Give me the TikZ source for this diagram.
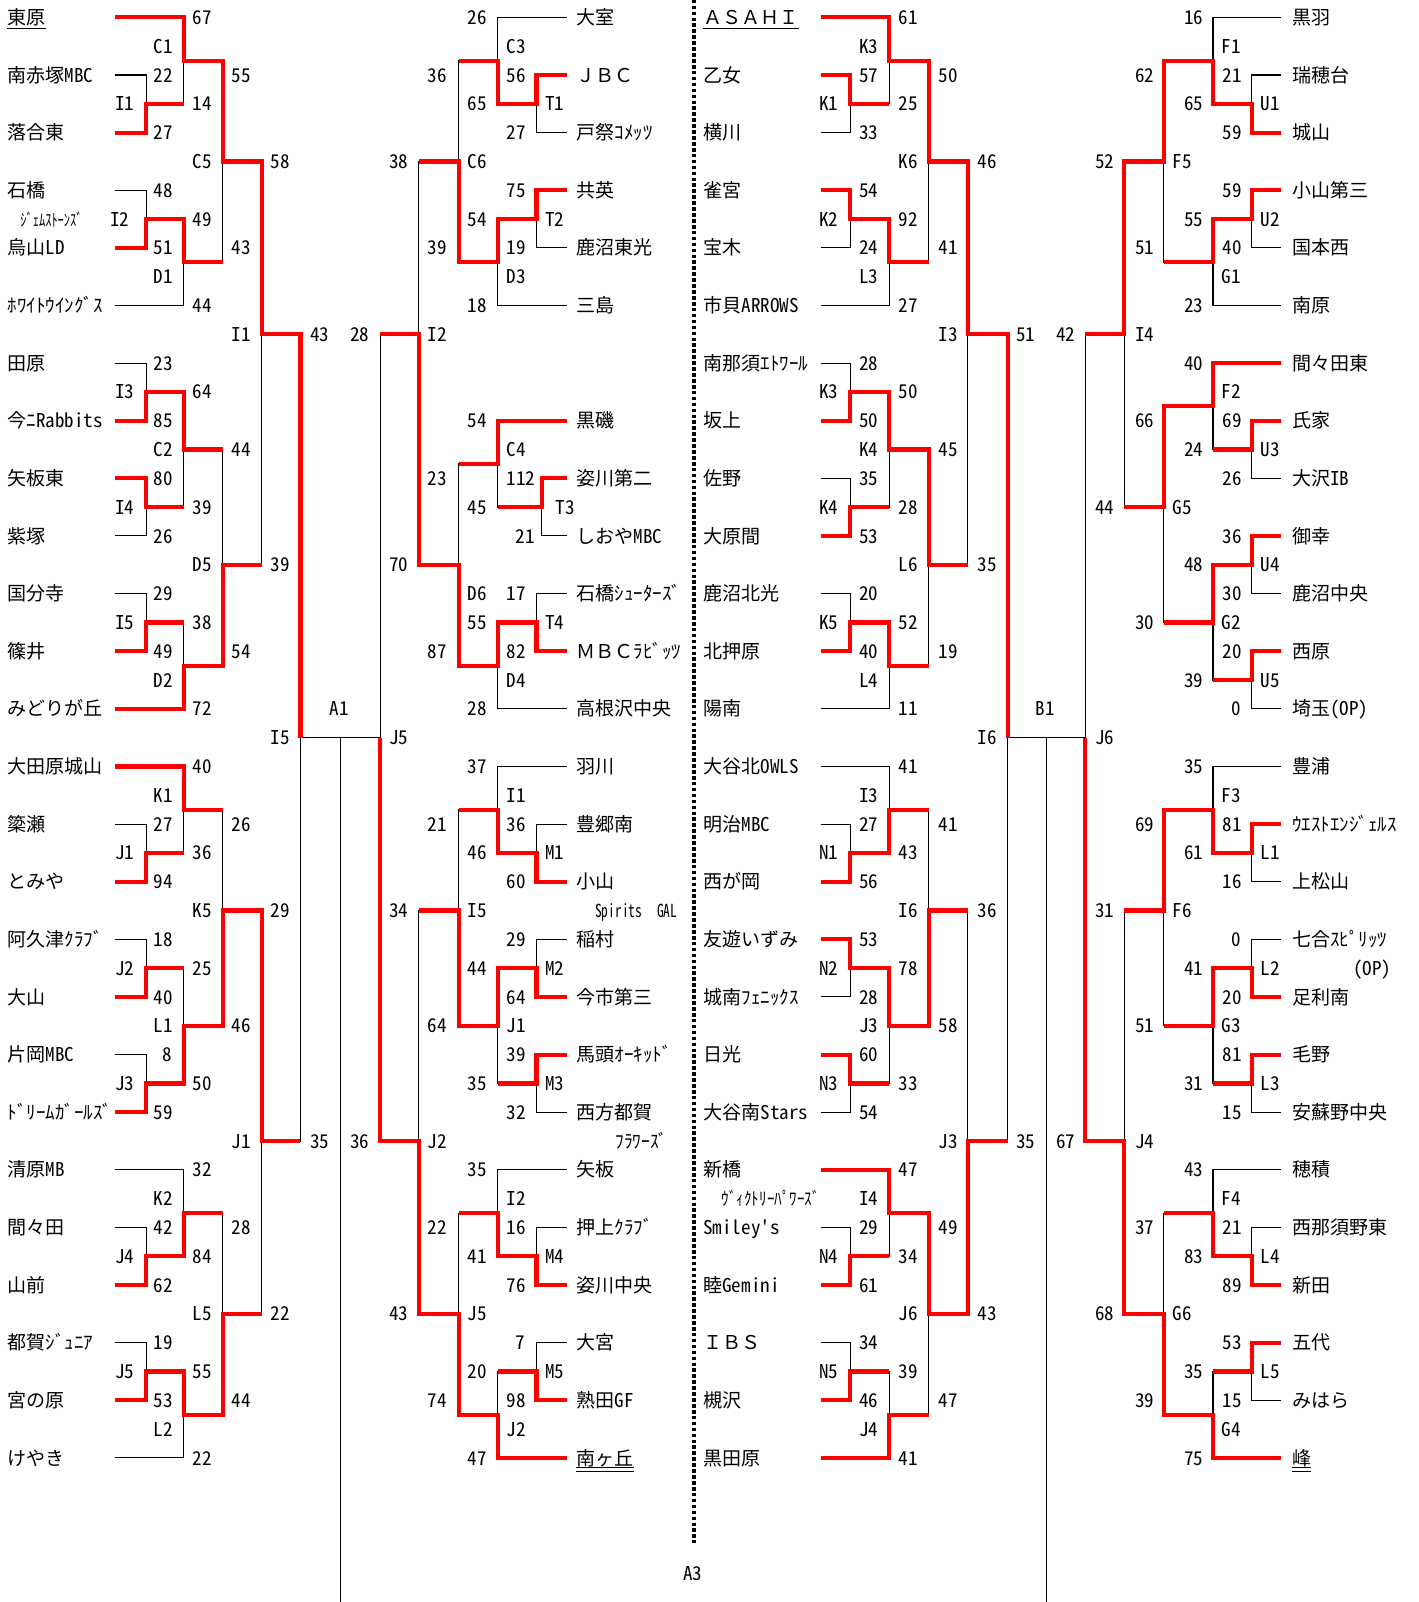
\documentclass[tikz,border=0pt]{standalone}
\usepackage{fontspec}
\setmainfont{Noto Sans CJK JP}
\newfontfamily\hw{Noto Sans CJK JP}[RawFeature=+hwid]
\newcommand\nf{\fontsize{10.6}{12}\selectfont}
\newcommand\mybr[5]{\draw[bline] (#1,#2)--(#3,#2)--(#3,#4)--(#5,#4);}
\tikzset{
  bline/.style={line width=0.56pt, black},
  rline/.style={line width=2.33pt, red, line join=miter},
  nm/.style={anchor=base west, inner sep=0pt, font=\nf, yshift=-0.138cm},
  sc/.style={anchor=base, inner sep=0pt, font=\hw\nf, yshift=-0.138cm},
  scr/.style={anchor=base east, inner sep=0pt, font=\hw\nf, yshift=-0.138cm},
  uline/.style={line width=0.56pt, black},
  dotline/.style={line width=1.9pt, dash pattern=on 2.0pt off 1.3pt},
}
\begin{document}
\begin{tikzpicture}[x=0.02cm, y=-0.564cm]
\useasboundingbox (0,-0.6028) rectangle (1388,55.0);
% ---------- black structure ----------
% A top
\mybr{113}{2}{143}{4}{113}
\mybr{113}{0}{180}{3}{143}
\mybr{113}{6}{143}{8}{113}
\mybr{143}{7}{180}{10}{113}
\mybr{180}{1.5}{218}{8.5}{180}
\mybr{113}{12}{143}{14}{113}
\mybr{113}{16}{143}{18}{113}
\mybr{143}{13}{180}{17}{143}
\mybr{113}{20}{143}{22}{113}
\mybr{143}{21}{180}{24}{113}
\mybr{180}{15}{218}{22.5}{180}
\mybr{218}{5}{256}{19}{218}
\mybr{256}{11}{294}{39}{256}
% A bottom
\mybr{113}{26}{180}{29}{143}
\mybr{113}{28}{143}{30}{113}
\mybr{113}{32}{143}{34}{113}
\mybr{113}{36}{143}{38}{113}
\mybr{143}{33}{180}{37}{143}
\mybr{180}{27.5}{218}{35}{180}
\mybr{113}{40}{180}{43}{143}
\mybr{113}{42}{143}{44}{113}
\mybr{113}{46}{143}{48}{113}
\mybr{143}{47}{180}{50}{113}
\mybr{180}{41.5}{218}{48.5}{180}
\mybr{218}{31}{256}{45}{218}
\draw[bline] (294,25)--(372,25) (333,25)--(333,55);
% B top
\mybr{555}{2}{525}{4}{555}
\mybr{555}{0}{487}{3}{525}
\mybr{555}{6}{525}{8}{555}
\mybr{525}{7}{487}{10}{555}
\mybr{487}{1.5}{449}{8.5}{487}
\mybr{555}{14}{487}{17}{530}
\mybr{555}{16}{530}{18}{555}
\mybr{555}{20}{525}{22}{555}
\mybr{525}{21}{487}{24}{555}
\mybr{487}{15.5}{449}{22.5}{487}
\mybr{449}{5}{410}{19}{449}
\mybr{410}{11}{372}{39}{410}
% B bottom
\mybr{555}{26}{487}{29}{525}
\mybr{555}{28}{525}{30}{555}
\mybr{555}{32}{525}{34}{555}
\mybr{555}{36}{525}{38}{555}
\mybr{525}{33}{487}{37}{525}
\mybr{487}{27.5}{449}{35}{487}
\mybr{555}{40}{487}{43}{525}
\mybr{555}{42}{525}{44}{555}
\mybr{555}{46}{525}{48}{555}
\mybr{525}{47}{487}{50}{555}
\mybr{487}{41.5}{449}{48.5}{487}
\mybr{449}{31}{410}{45}{449}
% C top
\mybr{803}{2}{832}{4}{803}
\mybr{803}{0}{870}{3}{832}
\mybr{803}{6}{832}{8}{803}
\mybr{832}{7}{870}{10}{803}
\mybr{870}{1.5}{909}{8.5}{870}
\mybr{803}{12}{832}{14}{803}
\mybr{803}{16}{832}{18}{803}
\mybr{832}{13}{870}{17}{832}
\mybr{803}{20}{832}{22}{803}
\mybr{832}{21}{870}{24}{803}
\mybr{870}{15}{909}{22.5}{870}
\mybr{909}{5}{947}{19}{909}
\mybr{947}{11}{986}{39}{947}
% C bottom
\mybr{803}{26}{870}{29}{832}
\mybr{803}{28}{832}{30}{803}
\mybr{803}{32}{832}{34}{803}
\mybr{803}{36}{832}{38}{803}
\mybr{832}{33}{870}{37}{832}
\mybr{870}{27.5}{909}{35}{870}
\mybr{803}{40}{870}{43}{832}
\mybr{803}{42}{832}{44}{803}
\mybr{803}{46}{832}{48}{803}
\mybr{832}{47}{870}{50}{803}
\mybr{870}{41.5}{909}{48.5}{870}
\mybr{909}{31}{947}{45}{909}
\draw[bline] (986,25)--(1062,25) (1024,25)--(1024,55);
% D top
\mybr{1254}{2}{1225}{4}{1254}
\mybr{1254}{0}{1187}{3}{1225}
\mybr{1254}{6}{1225}{8}{1254}
\mybr{1225}{7}{1187}{10}{1254}
\mybr{1187}{1.5}{1139}{8.5}{1187}
\mybr{1254}{12}{1187}{15}{1225}
\mybr{1254}{14}{1225}{16}{1254}
\mybr{1254}{18}{1225}{20}{1254}
\mybr{1254}{22}{1225}{24}{1254}
\mybr{1225}{19}{1187}{23}{1225}
\mybr{1187}{13.5}{1139}{21}{1187}
\mybr{1139}{5}{1100}{17}{1139}
\mybr{1100}{11}{1062}{39}{1100}
% D bottom
\mybr{1254}{26}{1187}{29}{1225}
\mybr{1254}{28}{1225}{30}{1254}
\mybr{1254}{32}{1225}{34}{1254}
\mybr{1254}{36}{1225}{38}{1254}
\mybr{1225}{33}{1187}{37}{1225}
\mybr{1187}{27.5}{1139}{35}{1187}
\mybr{1254}{40}{1187}{43}{1225}
\mybr{1254}{42}{1225}{44}{1254}
\mybr{1254}{46}{1225}{48}{1254}
\mybr{1225}{47}{1187}{50}{1254}
\mybr{1187}{41.5}{1139}{48.5}{1187}
\mybr{1139}{31}{1100}{45}{1139}
% ---------- red winner paths ----------
% A
\draw[rline] (113,0)--(180,0)--(180,1.5)--(218,1.5)--(218,5)--(256,5)--(256,11)--(294,11)--(294,25);
\draw[rline] (113,4)--(143,4)--(143,3)--(180,3);
\draw[rline] (113,8)--(143,8)--(143,7)--(180,7)--(180,8.5)--(218,8.5);
\draw[rline] (113,14)--(143,14)--(143,13)--(180,13)--(180,15)--(218,15);
\draw[rline] (113,16)--(143,16)--(143,17)--(180,17);
\draw[rline] (113,22)--(143,22)--(143,21)--(180,21);
\draw[rline] (113,24)--(180,24)--(180,22.5)--(218,22.5)--(218,19)--(256,19);
\draw[rline] (113,26)--(180,26)--(180,27.5)--(218,27.5);
\draw[rline] (113,30)--(143,30)--(143,29)--(180,29);
\draw[rline] (113,34)--(143,34)--(143,33)--(180,33);
\draw[rline] (113,38)--(143,38)--(143,37)--(180,37)--(180,35)--(218,35)--(218,31)--(256,31)--(256,39)--(294,39);
\draw[rline] (113,44)--(143,44)--(143,43)--(180,43)--(180,41.5)--(218,41.5);
\draw[rline] (113,48)--(143,48)--(143,47)--(180,47)--(180,48.5)--(218,48.5)--(218,45)--(256,45);
% B
\draw[rline] (555,2)--(525,2)--(525,3)--(487,3)--(487,1.5)--(449,1.5);
\draw[rline] (555,6)--(525,6)--(525,7)--(487,7)--(487,8.5)--(449,8.5)--(449,5)--(410,5);
\draw[rline] (555,14)--(487,14)--(487,15.5)--(449,15.5);
\draw[rline] (555,16)--(530,16)--(530,17)--(487,17);
\draw[rline] (555,22)--(525,22)--(525,21)--(487,21)--(487,22.5)--(449,22.5)--(449,19)--(410,19)--(410,11)--(372,11);
\draw[rline] (555,30)--(525,30)--(525,29)--(487,29)--(487,27.5)--(449,27.5);
\draw[rline] (555,34)--(525,34)--(525,33)--(487,33)--(487,35)--(449,35)--(449,31)--(410,31);
\draw[rline] (555,36)--(525,36)--(525,37)--(487,37);
\draw[rline] (555,44)--(525,44)--(525,43)--(487,43)--(487,41.5)--(449,41.5);
\draw[rline] (555,48)--(525,48)--(525,47)--(487,47);
\draw[rline] (555,50)--(487,50)--(487,48.5)--(449,48.5)--(449,45)--(410,45)--(410,39)--(372,39)--(372,25);
% C
\draw[rline] (803,0)--(870,0)--(870,1.5)--(909,1.5)--(909,5)--(947,5)--(947,11)--(986,11)--(986,25);
\draw[rline] (803,2)--(832,2)--(832,3)--(870,3);
\draw[rline] (803,6)--(832,6)--(832,7)--(870,7)--(870,8.5)--(909,8.5);
\draw[rline] (803,14)--(832,14)--(832,13)--(870,13)--(870,15)--(909,15)--(909,19)--(947,19);
\draw[rline] (803,18)--(832,18)--(832,17)--(870,17);
\draw[rline] (803,22)--(832,22)--(832,21)--(870,21)--(870,22.5)--(909,22.5);
\draw[rline] (803,30)--(832,30)--(832,29)--(870,29)--(870,27.5)--(909,27.5);
\draw[rline] (803,32)--(832,32)--(832,33)--(870,33)--(870,35)--(909,35)--(909,31)--(947,31);
\draw[rline] (803,36)--(832,36)--(832,37)--(870,37);
\draw[rline] (803,40)--(870,40)--(870,41.5)--(909,41.5)--(909,45)--(947,45)--(947,39)--(986,39);
\draw[rline] (803,44)--(832,44)--(832,43)--(870,43);
\draw[rline] (803,48)--(832,48)--(832,47)--(870,47);
\draw[rline] (803,50)--(870,50)--(870,48.5)--(909,48.5);
% D
\draw[rline] (1254,4)--(1225,4)--(1225,3)--(1187,3)--(1187,1.5)--(1139,1.5)--(1139,5)--(1100,5)--(1100,11)--(1062,11);
\draw[rline] (1254,6)--(1225,6)--(1225,7)--(1187,7)--(1187,8.5)--(1139,8.5);
\draw[rline] (1254,12)--(1187,12)--(1187,13.5)--(1139,13.5)--(1139,17)--(1100,17);
\draw[rline] (1254,14)--(1225,14)--(1225,15)--(1187,15);
\draw[rline] (1254,18)--(1225,18)--(1225,19)--(1187,19)--(1187,21)--(1139,21);
\draw[rline] (1254,22)--(1225,22)--(1225,23)--(1187,23);
\draw[rline] (1254,28)--(1225,28)--(1225,29)--(1187,29)--(1187,27.5)--(1139,27.5)--(1139,31)--(1100,31);
\draw[rline] (1254,34)--(1225,34)--(1225,33)--(1187,33)--(1187,35)--(1139,35);
\draw[rline] (1254,36)--(1225,36)--(1225,37)--(1187,37);
\draw[rline] (1254,44)--(1225,44)--(1225,43)--(1187,43)--(1187,41.5)--(1139,41.5);
\draw[rline] (1254,46)--(1225,46)--(1225,47)--(1187,47);
\draw[rline] (1254,50)--(1187,50)--(1187,48.5)--(1139,48.5)--(1139,45)--(1100,45)--(1100,39)--(1062,39)--(1062,25);
% dotted divider
\coordinate (dtop) at (679,-0.61);
\coordinate (dbot) at (679,52.95);
\draw[dotline] (dtop) -- (dbot);
% ---------- team names ----------
\foreach \x/\k/\t [count=\i] in {
7/2/{南赤塚{\hw MBC}},7/4/落合東,7/6/石橋,7/8/{烏山{\hw LD}},7/10/ﾎﾜｲﾄｳｲﾝｸﾞｽ,7/12/田原,7/14/{今ﾆ{\hw Rabbits}},7/16/矢板東,7/18/紫塚,7/20/国分寺,7/22/篠井,7/24/みどりが丘,
7/26/大田原城山,7/28/簗瀬,7/30/とみや,7/32/阿久津ｸﾗﾌﾞ,7/34/大山,7/36/{片岡{\hw MBC}},7/38/ﾄﾞﾘｰﾑｶﾞｰﾙｽﾞ,7/40/{清原{\hw MB}},7/42/間々田,7/44/山前,7/46/都賀ｼﾞｭﾆｱ,7/48/宮の原,7/50/けやき,
564/0/大室,564/2/ＪＢＣ,564/4/戸祭ｺﾒｯﾂ,564/6/共英,564/8/鹿沼東光,564/10/三島,564/14/黒磯,564/16/姿川第二,564/18/{しおや{\hw MBC}},564/20/石橋ｼｭｰﾀｰｽﾞ,564/22/ＭＢＣﾗﾋﾞｯﾂ,564/24/高根沢中央,
564/26/羽川,564/28/豊郷南,564/30/小山,564/32/稲村,564/34/今市第三,564/36/馬頭ｵｰｷｯﾄﾞ,564/38/西方都賀,564/40/矢板,564/42/押上ｸﾗﾌﾞ,564/44/姿川中央,564/46/大宮,564/48/{熟田{\hw GF}},
688/2/乙女,688/4/横川,688/6/雀宮,688/8/宝木,688/10/{市貝{\hw ARROWS}},688/12/南那須ｴﾄﾜｰﾙ,688/14/坂上,688/16/佐野,688/18/大原間,688/20/鹿沼北光,688/22/北押原,688/24/陽南,
688/26/{大谷北{\hw OWLS}},688/28/{明治{\hw MBC}},688/30/西が岡,688/32/友遊いずみ,688/34/城南ﾌｪﾆｯｸｽ,688/36/日光,688/38/{大谷南{\hw Stars}},688/40/新橋,688/42/{{\hw Smiley's}},688/44/{睦{\hw Gemini}},688/46/ＩＢＳ,688/48/槻沢,688/50/黒田原,
1264/0/黒羽,1264/2/瑞穂台,1264/4/城山,1264/6/小山第三,1264/8/国本西,1264/10/南原,1264/12/間々田東,1264/14/氏家,1264/16/{大沢{\hw IB}},1264/18/御幸,1264/20/鹿沼中央,1264/22/西原,1264/24/{埼玉{\hw (OP)}},
1264/26/豊浦,1264/28/ｳｴｽﾄｴﾝｼﾞｪﾙｽ,1264/30/上松山,1264/32/七合ｽﾋﾟﾘｯﾂ,1264/34/足利南,1264/36/毛野,1264/38/安蘇野中央,1264/40/穂積,1264/42/西那須野東,1264/44/新田,1264/46/五代,1264/48/みはら}
  \node[nm] (nm\i) at (\x,\k) {\t};
% underlined names
\node[nm] (tohara) at (7,0) {東原};
\draw[uline] ([yshift=-2.0pt]tohara.base west) -- ([yshift=-2.0pt]tohara.base east);
\node[nm] (asahi) at (688,0) {ＡＳＡＨＩ};
\draw[uline] ([yshift=-2.4pt]asahi.base west) -- ([yshift=-2.4pt]asahi.base east);
\node[nm] (minami) at (564,50) {南ヶ丘};
\draw[uline] ([yshift=-1.6pt]minami.base west) -- ([yshift=-1.6pt]minami.base east);
\draw[uline] ([yshift=-3.4pt]minami.base west) -- ([yshift=-3.4pt]minami.base east);
\node[nm] (mine) at (1264,50) {峰};
\draw[uline] ([yshift=-1.6pt]mine.base west) -- ([yshift=-1.6pt]mine.base east);
\draw[uline] ([yshift=-3.4pt]mine.base west) -- ([yshift=-3.4pt]mine.base east);
% small second-line texts
\node[nm] (jem) at (19.6,7) {\scalebox{0.73}[1]{\fontsize{9.5}{11}\selectfont ｼﾞｪﾑｽﾄｰﾝｽﾞ}};
\node[nm] (vic) at (706,41) {\scalebox{0.84}[1]{\fontsize{10}{12}\selectfont ｳﾞｨｸﾄﾘｰﾊﾟﾜｰｽﾞ}};
\node[nm] (spg) at (582,31) {\scalebox{0.75}[1]{\hw\fontsize{10}{12}\selectfont Spirits\hspace{0.39cm}GAL}};
\node[nm] (flw) at (602,39) {\scalebox{0.91}[1]{ﾌﾗﾜｰｽﾞ}};
\node[nm] (op2) at (1324,33) {\hw (OP)};
% ---------- scores and match labels ----------
\foreach \x/\k/\t [count=\i] in {
198/0/67,160/1/C1,160/2/22,236/2/55,122/3/I1,198/3/14,160/4/27,198/5/C5,274/5/58,160/6/48,117/7/I2,198/7/49,160/8/51,236/8/43,160/9/D1,198/10/44,236/11/I1,313/11/43,160/12/23,122/13/I3,198/13/64,160/14/85,160/15/C2,236/15/44,160/16/80,122/17/I4,198/17/39,160/18/26,198/19/D5,274/19/39,160/20/29,122/21/I5,198/21/38,160/22/49,236/22/54,160/23/D2,198/24/72,274/25/I5,332/24/A1,
198/26/40,160/27/K1,160/28/27,236/28/26,122/29/J1,198/29/36,160/30/94,198/31/K5,274/31/29,160/32/18,122/33/J2,198/33/25,160/34/40,160/35/L1,236/35/46,122/37/J3,198/37/50,160/38/59,236/39/J1,313/39/35,198/40/32,160/41/K2,160/42/42,236/42/28,122/43/J4,198/43/84,160/44/62,198/45/L5,274/45/22,160/46/19,122/47/J5,198/47/55,160/48/53,236/48/44,160/49/L2,198/50/22}
  \node[sc] (sa\i) at (\x,\k) {\t};
\foreach \x/\k/\t [count=\i] in {
467/0/26,505/1/C3,428/2/36,505/2/56,467/3/65,543/3/T1,505/4/27,390/5/38,467/5/C6,505/6/75,467/7/54,543/7/T2,428/8/39,505/8/19,505/9/D3,467/10/18,352/11/28,428/11/I2,467/14/54,505/15/C4,428/16/23,510/16/112,467/17/45,553/17/T3,514/18/21,390/19/70,467/20/D6,505/20/17,467/21/55,543/21/T4,428/22/87,505/22/82,505/23/D4,467/24/28,390/25/J5,
467/26/37,505/27/I1,428/28/21,505/28/36,467/29/46,543/29/M1,505/30/60,390/31/34,467/31/I5,505/32/29,467/33/44,543/33/M2,505/34/64,505/35/J1,428/35/64,505/36/39,467/37/35,543/37/M3,505/38/32,352/39/36,428/39/J2,467/40/35,505/41/I2,428/42/22,505/42/16,467/43/41,543/43/M4,505/44/76,390/45/43,467/45/J5,467/47/20,543/47/M5,428/48/74,505/48/98,505/49/J2,467/50/47}
  \node[sc] (sb\i) at (\x,\k) {\t};
\foreach \x/\k/\t [count=\i] in {
889/0/61,850/1/K3,850/2/57,928/2/50,811/3/K1,889/3/25,850/4/33,889/5/K6,966/5/46,850/6/54,811/7/K2,889/7/92,850/8/24,928/8/41,850/9/L3,889/10/27,928/11/I3,1004/11/51,850/12/28,811/13/K3,889/13/50,850/14/50,850/15/K4,928/15/45,850/16/35,811/17/K4,889/17/28,850/18/53,889/19/L6,966/19/35,850/20/20,811/21/K5,889/21/52,850/22/40,928/22/19,850/23/L4,889/24/11,966/25/I6,1023/24/B1,
889/26/41,850/27/I3,850/28/27,928/28/41,811/29/N1,889/29/43,850/30/56,889/31/I6,966/31/36,850/32/53,811/33/N2,889/33/78,850/34/28,850/35/J3,928/35/58,850/36/60,811/37/N3,889/37/33,850/38/54,928/39/J3,1004/39/35,889/40/47,850/41/I4,850/42/29,928/42/49,811/43/N4,889/43/34,850/44/61,889/45/J6,966/45/43,850/46/34,811/47/N5,889/47/39,850/48/46,928/48/47,850/49/J4,889/50/41}
  \node[sc] (sc\i) at (\x,\k) {\t};
\foreach \x/\k/\t [count=\i] in {
1168/0/16,1205/1/F1,1120/2/62,1206/2/21,1168/3/65,1243/3/U1,1206/4/59,1081/5/52,1157/5/F5,1206/6/59,1168/7/55,1243/7/U2,1120/8/51,1206/8/40,1205/9/G1,1168/10/23,1043/11/42,1120/11/I4,1168/12/40,1205/13/F2,1120/14/66,1206/14/69,1168/15/24,1243/15/U3,1206/16/26,1081/17/44,1157/17/G5,1206/18/36,1168/19/48,1243/19/U4,1206/20/30,1120/21/30,1205/21/G2,1206/22/20,1168/23/39,1243/23/U5,1081/25/J6,
1168/26/35,1205/27/F3,1120/28/69,1206/28/81,1168/29/61,1243/29/L1,1206/30/16,1081/31/31,1157/31/F6,1168/33/41,1243/33/L2,1206/34/20,1120/35/51,1205/35/G3,1206/36/81,1168/37/31,1243/37/L3,1206/38/15,1043/39/67,1120/39/J4,1168/40/43,1205/41/F4,1120/42/37,1206/42/21,1168/43/83,1243/43/L4,1206/44/89,1081/45/68,1157/45/G6,1206/46/53,1168/47/35,1243/47/L5,1120/48/39,1206/48/15,1205/49/G4,1168/50/75}
  \node[sc] (sd\i) at (\x,\k) {\t};
\node[scr] (one1) at (169,36) {8};
\node[scr] (one2) at (514,46) {7};
\node[scr] (one3) at (1215,24) {0};
\node[scr] (one4) at (1215,32) {0};
\node[sc] (a3) at (678,54) {A3};
\end{tikzpicture}
\end{document}
